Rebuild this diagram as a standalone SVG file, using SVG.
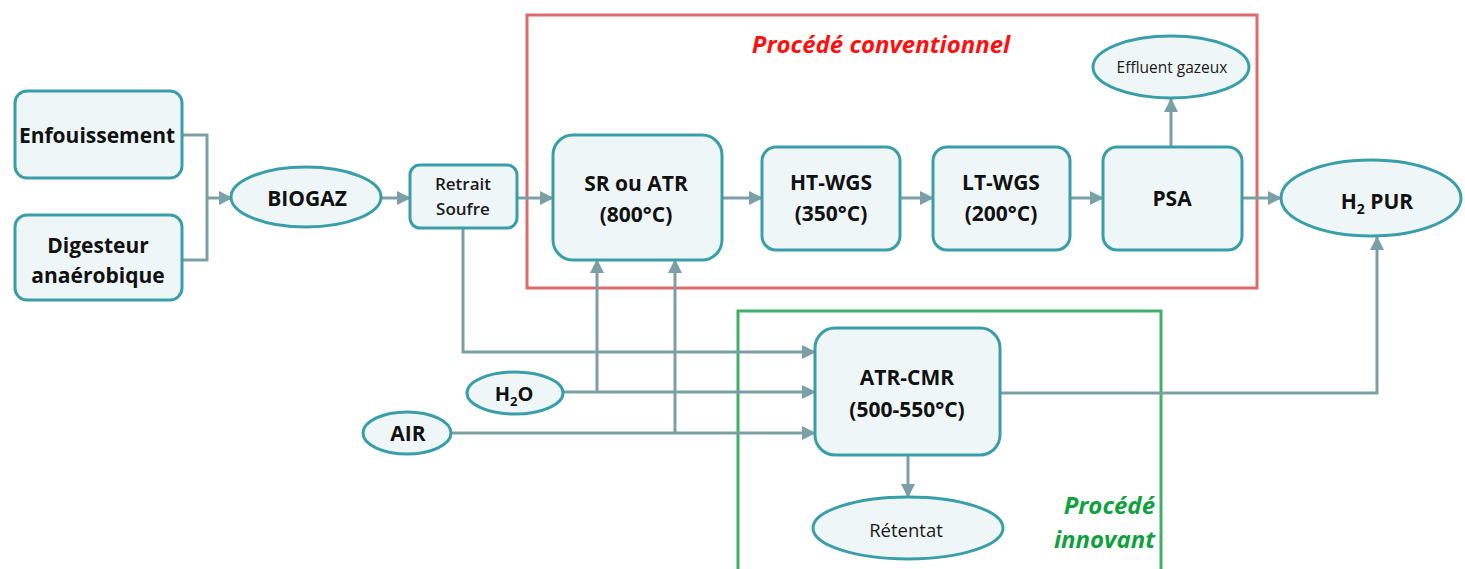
<svg xmlns="http://www.w3.org/2000/svg" width="1465" height="569" viewBox="0 0 1465 569">
<style>
.box{fill:#eef6f8;stroke:#3a9ea9;stroke-width:3}
.ell{fill:#eef6f8;stroke:#3a9ea9;stroke-width:3}
.con{fill:none;stroke:#7c9fa5;stroke-width:3}
.t{font-family:"Open Sans","Noto Sans",sans-serif;font-weight:bold;fill:#111;text-anchor:middle}
.n{font-family:"Open Sans","Noto Sans",sans-serif;fill:#1a1a1a;text-anchor:middle}
.lbl{font-family:"Open Sans","Noto Sans",sans-serif;font-weight:bold;font-style:italic}
</style>
<defs>
<marker id="ah" markerUnits="userSpaceOnUse" markerWidth="14" markerHeight="14" refX="13" refY="7" orient="auto">
<path d="M0,0 L14,7 L0,14 Z" fill="#7c9fa5"/>
</marker>
</defs>
<rect width="1465" height="569" fill="#ffffff"/>
<g id="group-conventionnel">
<rect x="527" y="15" width="730" height="273" fill="none" stroke="#e06a6a" stroke-width="3"/>
<text class="lbl" x="881" y="53" font-size="24" fill="#ff1010" text-anchor="middle">Procédé conventionnel</text>
</g>
<g id="group-innovant">
<rect x="738" y="311" width="423" height="270" fill="none" stroke="#3fb06a" stroke-width="3"/>
<text class="lbl" x="1155" y="514" font-size="24" fill="#10a040" text-anchor="end">Procédé</text>
<text class="lbl" x="1155" y="548" font-size="24" fill="#10a040" text-anchor="end">innovant</text>
</g>
<g id="connectors">
<polyline class="con" points="182,135 207,135 207,260 182,260"/>
<line class="con" x1="207" y1="198" x2="232" y2="198" marker-end="url(#ah)"/>
<line class="con" x1="382" y1="198" x2="410" y2="198" marker-end="url(#ah)"/>
<line class="con" x1="517" y1="198" x2="553" y2="198" marker-end="url(#ah)"/>
<line class="con" x1="722" y1="198" x2="762" y2="198" marker-end="url(#ah)"/>
<line class="con" x1="900" y1="198" x2="933" y2="198" marker-end="url(#ah)"/>
<line class="con" x1="1070" y1="198" x2="1103" y2="198" marker-end="url(#ah)"/>
<line class="con" x1="1242" y1="198" x2="1281" y2="198" marker-end="url(#ah)"/>
<line class="con" x1="1171" y1="147" x2="1171" y2="99" marker-end="url(#ah)"/>
<polyline class="con" points="463,228 463,352 815,352" marker-end="url(#ah)"/>
<line class="con" x1="563" y1="392" x2="815" y2="392" marker-end="url(#ah)"/>
<line class="con" x1="597" y1="392" x2="597" y2="260" marker-end="url(#ah)"/>
<line class="con" x1="451" y1="433" x2="815" y2="433" marker-end="url(#ah)"/>
<line class="con" x1="675" y1="433" x2="675" y2="260" marker-end="url(#ah)"/>
<polyline class="con" points="1000,393 1377,393 1377,237" marker-end="url(#ah)"/>
<line class="con" x1="908" y1="455" x2="908" y2="497" marker-end="url(#ah)"/>
</g>
<g id="enfouissement">
<rect class="box" x="15" y="91" width="167" height="87" rx="12"/>
<text class="t" x="97" y="143" font-size="21">Enfouissement</text>
</g>
<g id="digesteur">
<rect class="box" x="15" y="215" width="167" height="85" rx="12"/>
<text class="t" x="98" y="253" font-size="21">Digesteur</text>
<text class="t" x="98" y="283" font-size="21">anaérobique</text>
</g>
<g id="biogaz">
<ellipse class="ell" cx="306" cy="197" rx="75" ry="30"/>
<text class="t" x="307" y="206" font-size="21">BIOGAZ</text>
</g>
<g id="retrait">
<rect class="box" x="410" y="165" width="107" height="63" rx="10"/>
<text class="n" x="463" y="190" font-size="17" font-weight="600">Retrait</text>
<text class="n" x="463" y="215" font-size="17" font-weight="600">Soufre</text>
</g>
<g id="sr-atr">
<rect class="box" x="553" y="135" width="169" height="125" rx="20"/>
<text class="t" x="636" y="191" font-size="21">SR ou ATR</text>
<text class="t" x="636" y="222" font-size="21">(800°C)</text>
</g>
<g id="ht-wgs">
<rect class="box" x="762" y="147" width="138" height="103" rx="14"/>
<text class="t" x="831" y="190" font-size="21">HT-WGS</text>
<text class="t" x="831" y="221" font-size="21">(350°C)</text>
</g>
<g id="lt-wgs">
<rect class="box" x="933" y="147" width="137" height="103" rx="14"/>
<text class="t" x="1001" y="190" font-size="21">LT-WGS</text>
<text class="t" x="1001" y="221" font-size="21">(200°C)</text>
</g>
<g id="psa">
<rect class="box" x="1103" y="147" width="139" height="103" rx="14"/>
<text class="t" x="1172" y="206" font-size="21">PSA</text>
</g>
<g id="effluent">
<ellipse class="ell" cx="1171" cy="67" rx="78" ry="31"/>
<text class="n" x="1172" y="73" font-size="15.5">Effluent gazeux</text>
</g>
<g id="h2pur">
<ellipse class="ell" cx="1371" cy="198" rx="90" ry="38"/>
<text class="t" x="1377" y="209" font-size="21">H<tspan font-size="14" dy="5">2</tspan><tspan dy="-5"> PUR</tspan></text>
</g>
<g id="h2o">
<ellipse class="ell" cx="515" cy="393" rx="48" ry="21"/>
<text class="t" x="514" y="401" font-size="20">H<tspan font-size="13" dy="5">2</tspan><tspan dy="-5">O</tspan></text>
</g>
<g id="air">
<ellipse class="ell" cx="407" cy="433" rx="44" ry="21"/>
<text class="t" x="408" y="441" font-size="21">AIR</text>
</g>
<g id="atr-cmr">
<rect class="box" x="815" y="328" width="185" height="127" rx="20"/>
<text class="t" x="907" y="385" font-size="21">ATR-CMR</text>
<text class="t" x="907" y="417" font-size="21">(500-550°C)</text>
</g>
<g id="retentat">
<ellipse class="ell" cx="908" cy="528" rx="95" ry="31"/>
<text class="n" x="906" y="537" font-size="18.5">Rétentat</text>
</g>
</svg>
